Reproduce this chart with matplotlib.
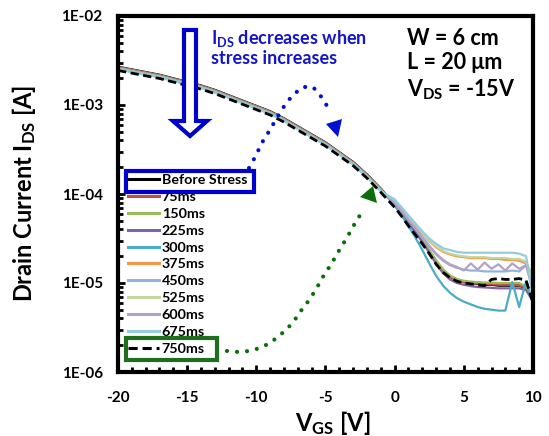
import numpy as np
import matplotlib
matplotlib.use("Agg")
import matplotlib.pyplot as plt
from matplotlib.patches import Polygon, Rectangle
from matplotlib.ticker import MultipleLocator, LogLocator, FuncFormatter, NullFormatter

plt.rcParams['font.family'] = ['Lato', 'DejaVu Sans']
plt.rcParams['font.weight'] = 'bold'
plt.rcParams['mathtext.fontset'] = 'custom'
plt.rcParams['mathtext.rm'] = 'Lato:bold'
plt.rcParams['mathtext.it'] = 'Lato:bold'
plt.rcParams['mathtext.bf'] = 'Lato:bold'

# gate voltage grid (V)
vgs = [-20, -19, -18, -17, -16, -15, -14, -13, -12, -11, -10, -9, -8, -7, -6, -5, -4, -3, -2, -1,
       0, 0.5, 1, 1.5, 2, 2.5, 3, 3.5, 4, 4.5, 5, 5.5, 6, 6.5, 7, 7.5, 8, 8.5, 9, 9.5, 10]

# log10 of drain current (A)
log_before = [-2.570, -2.600, -2.630, -2.660, -2.700, -2.740, -2.780, -2.830, -2.890, -2.950,
              -3.010, -3.070, -3.150, -3.240, -3.330, -3.420, -3.530, -3.640, -3.780, -3.940,
              -4.110, -4.210, -4.310, -4.410, -4.520, -4.640, -4.760, -4.860, -4.930, -4.970,
              -4.990, -5.000, -5.010, -5.020, -5.020, -5.030, -5.030, -5.030, -5.030, -5.060, -5.200]
log_75 = [-2.574, -2.604, -2.634, -2.664, -2.704, -2.744, -2.784, -2.834, -2.894, -2.954,
          -3.014, -3.074, -3.154, -3.244, -3.334, -3.424, -3.534, -3.644, -3.784, -3.944,
          -4.114, -4.214, -4.314, -4.414, -4.522, -4.642, -4.760, -4.860, -4.930, -4.970,
          -4.990, -5.000, -5.005, -5.010, -5.015, -5.020, -5.020, -5.020, -5.025, -5.060, -5.200]
log_150 = [-2.578, -2.608, -2.638, -2.668, -2.708, -2.748, -2.788, -2.838, -2.898, -2.958,
           -3.018, -3.078, -3.158, -3.248, -3.338, -3.428, -3.538, -3.648, -3.788, -3.948,
           -4.118, -4.216, -4.314, -4.412, -4.515, -4.630, -4.745, -4.845, -4.915, -4.955,
           -4.975, -4.985, -4.990, -4.995, -4.995, -5.000, -5.000, -5.000, -5.000, -5.040, -5.190]
log_225 = [-2.582, -2.612, -2.642, -2.672, -2.712, -2.752, -2.792, -2.842, -2.902, -2.962,
           -3.022, -3.082, -3.162, -3.252, -3.342, -3.432, -3.542, -3.652, -3.792, -3.952,
           -4.122, -4.222, -4.325, -4.430, -4.540, -4.660, -4.785, -4.890, -4.960, -5.000,
           -5.020, -5.035, -5.045, -5.050, -5.055, -5.060, -5.060, -5.060, -5.060, -5.080, -5.210]
log_300 = [-2.585, -2.615, -2.645, -2.675, -2.715, -2.755, -2.795, -2.845, -2.905, -2.965,
           -3.025, -3.085, -3.165, -3.255, -3.345, -3.435, -3.545, -3.655, -3.795, -3.955,
           -4.130, -4.240, -4.360, -4.490, -4.630, -4.780, -4.920, -5.030, -5.110, -5.170,
           -5.210, -5.240, -5.270, -5.290, -5.300, -5.310, -5.310, -4.990, -5.270, -4.980, -5.220]
log_375 = [-2.588, -2.618, -2.648, -2.678, -2.718, -2.758, -2.798, -2.848, -2.908, -2.968,
           -3.028, -3.088, -3.168, -3.258, -3.348, -3.438, -3.548, -3.658, -3.798, -3.958,
           -4.090, -4.170, -4.260, -4.350, -4.440, -4.530, -4.600, -4.650, -4.680, -4.700,
           -4.710, -4.720, -4.720, -4.720, -4.730, -4.730, -4.740, -4.740, -4.750, -4.780, -4.920]
log_450 = [-2.591, -2.621, -2.651, -2.681, -2.721, -2.761, -2.801, -2.851, -2.911, -2.971,
           -3.031, -3.091, -3.171, -3.261, -3.351, -3.441, -3.551, -3.661, -3.801, -3.961,
           -4.100, -4.190, -4.290, -4.390, -4.490, -4.590, -4.680, -4.750, -4.800, -4.830,
           -4.850, -4.860, -4.860, -4.870, -4.870, -4.870, -4.870, -4.860, -4.870, -4.800, -5.100]
log_525 = [-2.594, -2.624, -2.654, -2.684, -2.724, -2.764, -2.804, -2.854, -2.914, -2.974,
           -3.034, -3.094, -3.174, -3.264, -3.354, -3.444, -3.554, -3.664, -3.804, -3.964,
           -4.080, -4.170, -4.260, -4.350, -4.440, -4.520, -4.590, -4.640, -4.670, -4.690,
           -4.700, -4.710, -4.710, -4.710, -4.720, -4.720, -4.720, -4.730, -4.730, -4.760, -4.950]
log_600 = [-2.597, -2.627, -2.657, -2.687, -2.727, -2.767, -2.807, -2.857, -2.917, -2.977,
           -3.037, -3.097, -3.177, -3.267, -3.357, -3.447, -3.557, -3.667, -3.807, -3.967,
           -4.100, -4.190, -4.290, -4.380, -4.480, -4.580, -4.670, -4.740, -4.790, -4.820,
           -4.860, -4.780, -4.850, -4.770, -4.840, -4.790, -4.860, -4.780, -4.840, -4.800, -5.050]
log_675 = [-2.600, -2.630, -2.660, -2.690, -2.730, -2.770, -2.810, -2.860, -2.920, -2.980,
           -3.040, -3.100, -3.180, -3.270, -3.360, -3.450, -3.560, -3.670, -3.810, -3.970,
           -4.060, -4.150, -4.240, -4.330, -4.420, -4.500, -4.560, -4.610, -4.630, -4.650,
           -4.660, -4.660, -4.660, -4.660, -4.660, -4.660, -4.660, -4.660, -4.670, -4.700, -5.150]
log_750 = [-2.612, -2.642, -2.672, -2.702, -2.742, -2.782, -2.822, -2.872, -2.932, -2.992,
           -3.052, -3.112, -3.192, -3.282, -3.372, -3.462, -3.572, -3.682, -3.822, -3.982,
           -4.150, -4.250, -4.360, -4.460, -4.560, -4.670, -4.790, -4.880, -4.940, -4.980,
           -5.000, -5.010, -5.020, -5.030, -4.960, -4.950, -4.960, -4.960, -4.950, -4.970, -5.220]

labels = ['Before Stress', '75ms', '150ms', '225ms', '300ms', '375ms',
          '450ms', '525ms', '600ms', '675ms', '750ms']
series = [log_before, log_75, log_150, log_225, log_300, log_375,
          log_450, log_525, log_600, log_675, log_750]
colors = ['black', '#C0504D', '#9BBB59', '#8064A2', '#4BACC6', '#F79646',
          '#95B3D7', '#C3D69B', '#B3A2C7', '#93CDDD', 'black']

W, H = 549, 436


def fp(x, y):
    # reference pixel -> figure fraction
    return (x / W, 1 - y / H)


fig = plt.figure(figsize=(W / 100, H / 100), dpi=100)
ax = fig.add_axes([118 / W, 1 - 372 / H, 415 / W, 356 / H])

for lg, lab, c in zip(series, labels, colors):
    ids = 10 ** np.array(lg)
    if lab == '750ms':
        ax.plot(vgs, ids, color=c, lw=2, ls=(0, (3, 1.6)), label=lab)
    else:
        ax.plot(vgs, ids, color=c, lw=1.6, label=lab)

ax.set_yscale('log')
ax.set_xlim(-20, 10)
ax.set_ylim(1e-6, 1e-2)
ax.xaxis.set_major_locator(MultipleLocator(5))
ax.xaxis.set_minor_locator(MultipleLocator(1))
ax.yaxis.set_major_locator(LogLocator(base=10, numticks=10))
ax.yaxis.set_minor_locator(LogLocator(base=10, subs=np.arange(2, 10), numticks=20))
ax.yaxis.set_major_formatter(FuncFormatter(lambda v, _: "1E-%02d" % round(-np.log10(v))))
ax.yaxis.set_minor_formatter(NullFormatter())
ax.xaxis.set_major_formatter(FuncFormatter(lambda v, _: "%d" % v))
ax.tick_params(which='both', direction='in', top=False, right=False, width=2, labelsize=11)
ax.tick_params(which='major', length=5)
ax.tick_params(which='minor', length=3.5)
ax.tick_params(axis='x', pad=14)
ax.tick_params(axis='y', pad=11)
for s in ax.spines.values():
    s.set_linewidth(3)

fig.text(24 / W, 1 - 193 / H, r'Drain Current I$_{\mathrm{DS}}$ [A]', rotation=90,
         fontsize=17, ha='center', va='center')
fig.text(333 / W, 1 - 423 / H, r'V$_{\mathrm{GS}}$ [V]', fontsize=17, ha='center', va='center')

leg = ax.legend(loc='upper left', bbox_to_anchor=fp(128, 174), bbox_transform=fig.transFigure,
                frameon=False, fontsize=10.3, handlelength=2.2, handletextpad=0.15,
                labelspacing=0.34, borderpad=0, borderaxespad=0)
for h in leg.get_lines():
    h.set_linewidth(2.2)

# boxes around first and last legend entries
fig.add_artist(Rectangle(fp(126, 192), 128 / W, 21 / H, transform=fig.transFigure,
                         fill=False, ec='#0000CC', lw=3))
fig.add_artist(Rectangle(fp(126, 360), 91 / W, 22 / H, transform=fig.transFigure,
                         fill=False, ec='#1E6E1E', lw=3))

# hollow down arrow
arrow_pts = [(184, 30), (196, 30), (196, 121), (207, 121), (190, 136), (173, 121), (184, 121)]
fig.add_artist(Polygon([fp(*p) for p in arrow_pts], closed=True, transform=fig.transFigure,
                       fc='white', ec='#0000CC', lw=3, joinstyle='miter'))

fig.text(211 / W, 1 - 28 / H, r'I$_{\mathrm{DS}}$ decreases when' + '\nstress increases',
         color='#1414C8', fontsize=13, va='top', ha='left', linespacing=1.1)

fig.text(407 / W, 1 - 28 / H, 'W = 6 cm\nL = 20 \u03bcm\n' + r'V$_{\mathrm{DS}}$ = -15V',
         color='black', fontsize=15.5, va='top', ha='left', linespacing=1.2)

# blue dotted curved arrow
blue_path = [(249, 168), (254, 159), (259, 149), (264, 139), (270, 130), (275, 121), (281, 111),
             (287, 102), (294, 94), (303, 87), (313, 87), (320, 95), (326, 104), (330, 114)]
bx, by = zip(*[fp(*p) for p in blue_path])
ax.plot(bx, by, transform=fig.transFigure, clip_on=False, color='#0010D0', lw=3,
        ls=(0, (0.01, 2.4)), dash_capstyle='round')
fig.add_artist(Polygon([fp(326, 124), fp(342, 119), fp(338, 137)], closed=True,
                       transform=fig.transFigure, fc='#0010D0', ec='none'))

# green dotted curved arrow
green_path = [(227, 351), (239, 352), (249, 351), (260, 348), (270, 343), (279, 336), (287, 329),
              (294, 321), (300, 312), (307, 303), (313, 294), (319, 284), (324, 275), (330, 266),
              (336, 256), (341, 247), (347, 238), (352, 228), (358, 219), (363, 209)]
gx, gy = zip(*[fp(*p) for p in green_path])
ax.plot(gx, gy, transform=fig.transFigure, clip_on=False, color='#0A6E0A', lw=3,
        ls=(0, (0.01, 2.4)), dash_capstyle='round')
fig.add_artist(Polygon([fp(360, 197), fp(377, 203), fp(373, 186)], closed=True,
                       transform=fig.transFigure, fc='#0A6E0A', ec='none'))

fig.savefig('out.png', dpi=100)
